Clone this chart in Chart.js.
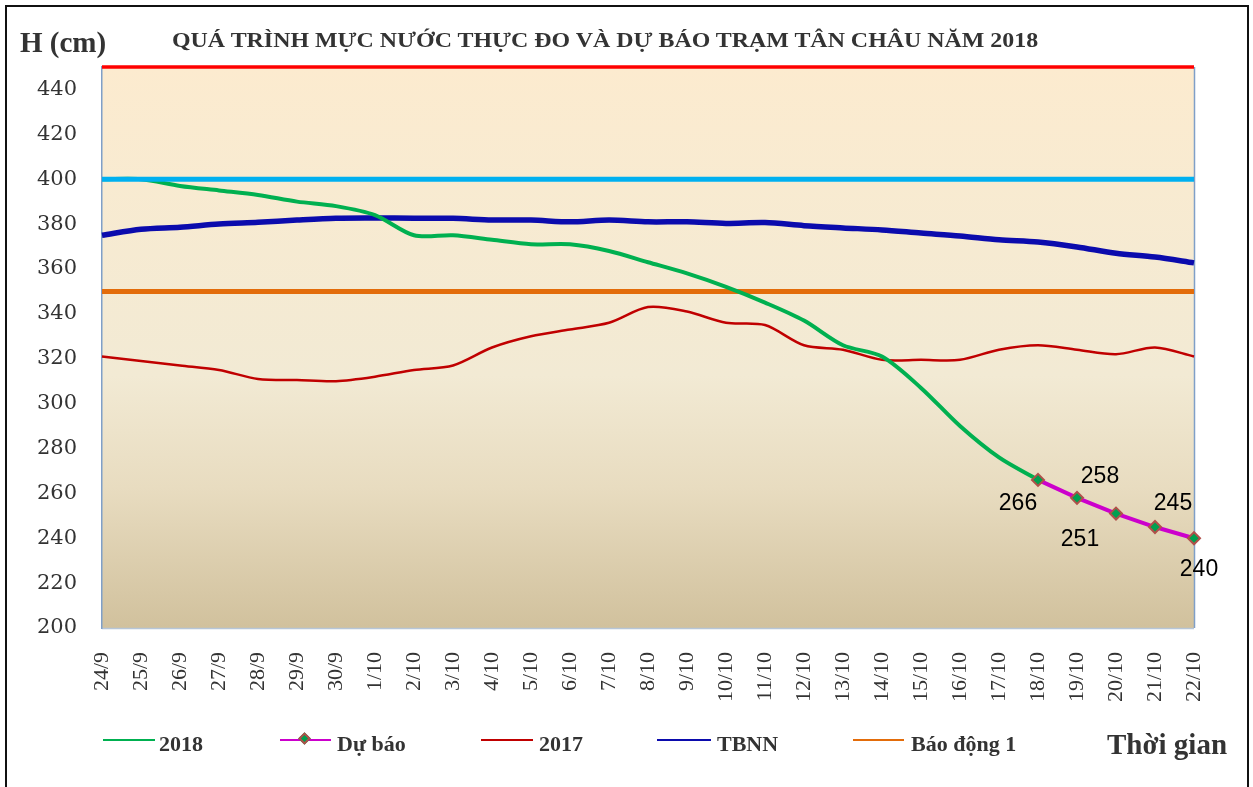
<!DOCTYPE html>
<html lang="vi">
<head>
  <meta charset="UTF-8" />
  <title>Tân Châu 2018</title>
  <script src="https://cdn.jsdelivr.net/npm/chart.js"></script>
  <style>
    * { margin: 0; padding: 0; box-sizing: border-box; }
    body { width: 1253px; height: 787px; background: #fff; overflow: hidden; position: relative;
           font-family: 'Liberation Serif', 'Times New Roman', serif; color: #333; }
    .frame { position: absolute; left: 5px; top: 5px; width: 1244px; height: 800px; border: 2px solid #111; }
    #chart { position: absolute; left: 0; top: 0; }
    .txt { position: absolute; font-weight: bold; white-space: nowrap; line-height: 1; }
    .title { left: 172px; top: 29px; font-size: 22px; transform-origin: left center; }
    .yname { left: 20px; top: 28px; font-size: 29px; }
    .xname { left: 1107px; top: 730px; font-size: 29px; }
    .leg-line { position: absolute; height: 2px; }
    .leg-text { position: absolute; top: 733px; font-size: 22px; font-weight: bold; line-height: 1; }
    .diamond { position: absolute; width: 9px; height: 9px; transform: rotate(45deg);
               background: #00a050; border: 2px solid #b0504a; }
  </style>
</head>
<body>
  <div class="frame"></div>
  <canvas id="chart" width="1253" height="787"></canvas>
  <div class="txt title" id="title">QUÁ TRÌNH MỰC NƯỚC THỰC ĐO VÀ DỰ BÁO TRẠM TÂN CHÂU NĂM 2018</div>
  <div class="txt yname">H (cm)</div>
  <div class="txt xname">Thời gian</div>
  <div id="legend"></div>

  <script>
    // dates on the x axis
    const days = ['24/9','25/9','26/9','27/9','28/9','29/9','30/9','1/10','2/10','3/10','4/10','5/10','6/10','7/10',
                  '8/10','9/10','10/10','11/10','12/10','13/10','14/10','15/10','16/10','17/10','18/10','19/10','20/10','21/10','22/10'];

    // water level (cm)
    const level2018 = [400,400,397,395,393,390,388,384,375,375,373,371,371,368,363,358,352,345,337,326,321,307,290,276,266,null,null,null,null];
    const forecast  = [null,null,null,null,null,null,null,null,null,null,null,null,null,null,null,null,null,null,null,null,null,null,null,null,266,258,251,245,240];
    const level2017 = [321,319,317,315,311,310.5,310,312,315,317,325,330,333,336,343,341,336,335,326,324,319.5,319.5,319.5,324,326,324,322,325,321];
    const tbnn      = [375,377.7,378.6,380,380.8,381.8,382.6,382.7,382.6,382.6,381.8,381.8,381,381.8,381,381,380.3,380.7,379.3,378.3,377.4,376,374.7,373,372,369.8,367,365.3,362.7];

    // alarm levels
    const alarm1 = 350, alarm2 = 400, alarm3 = 450;
    const yTicks = [200,220,240,260,280,300,320,340,360,380,400,420,440];

    // where each forecast number sits relative to its point
    const labelOffsets = [[-20,24],[23,-21],[-36,26],[18,-23],[5,31]];

    const flat = v => days.map(() => v);

    const bgPlugin = {
      id: 'plotBg',
      beforeDraw(chart) {
        const { ctx, chartArea: a } = chart;
        const g = ctx.createLinearGradient(0, a.top, 0, a.bottom);
        g.addColorStop(0, '#fcebcf');
        g.addColorStop(0.55, '#f2ead4');
        g.addColorStop(0.75, '#e8dcc0');
        g.addColorStop(1, '#d1c19d');
        ctx.save();
        ctx.fillStyle = g;
        ctx.fillRect(a.left, a.top, a.right - a.left, a.bottom - a.top);
        // right and bottom frame
        ctx.lineWidth = 1.5;
        ctx.strokeStyle = '#b7c6d8';
        ctx.beginPath();
        ctx.moveTo(a.left, a.bottom + 0.5);
        ctx.lineTo(a.right, a.bottom + 0.5);
        ctx.stroke();
        ctx.strokeStyle = '#7f9fc8';
        ctx.beginPath();
        ctx.moveTo(a.right + 0.5, a.top);
        ctx.lineTo(a.right + 0.5, a.bottom);
        ctx.stroke();
        ctx.restore();
      }
    };

    const numberPlugin = {
      id: 'forecastNumbers',
      afterDatasetsDraw(chart) {
        const idx = chart.data.datasets.findIndex(d => d.label === 'Dự báo');
        const meta = chart.getDatasetMeta(idx);
        const ctx = chart.ctx;
        ctx.save();
        ctx.font = '23px "Liberation Sans", Arial, sans-serif';
        ctx.fillStyle = '#000';
        ctx.textAlign = 'center';
        ctx.textBaseline = 'middle';
        let k = 0;
        forecast.forEach((v, i) => {
          if (v === null) return;
          const p = meta.data[i];
          const off = labelOffsets[k++];
          ctx.fillText(String(v), p.x + off[0], p.y + off[1]);
        });
        ctx.restore();
      }
    };

    const datasets = [
      { label: 'Dự báo', data: forecast, borderColor: '#cc00cc', borderWidth: 4, tension: 0,
        pointStyle: 'rectRot', pointRadius: 6, pointBackgroundColor: '#00a050', pointBorderColor: '#b0504a',
        pointBorderWidth: 2, order: 0, spanGaps: false },
      { label: 'Báo động 2', data: flat(alarm2), borderColor: '#00b0f0', borderWidth: 5, order: 1 },
      { label: '2018', data: level2018, borderColor: '#00b050', borderWidth: 4, tension: 0.3, order: 2 },
      { label: 'TBNN', data: tbnn, borderColor: '#0b0bad', borderWidth: 5.5, tension: 0.3, order: 3 },
      { label: '2017', data: level2017, borderColor: '#c00000', borderWidth: 2.5, tension: 0.3, order: 4 },
      { label: 'Báo động 1', data: flat(alarm1), borderColor: '#e36c0a', borderWidth: 5, order: 5 },
      { label: 'Báo động 3', data: flat(alarm3), borderColor: '#ff0000', borderWidth: 3.5, order: 6, clip: false }
    ];
    datasets.forEach(d => {
      d.fill = false;
      if (d.label !== 'Dự báo') d.pointRadius = 0;
    });

    new Chart(document.getElementById('chart'), {
      type: 'line',
      data: { labels: days, datasets: datasets },
      options: {
        responsive: false,
        animation: false,
        layout: { padding: { top: 67, right: 59, left: 0, bottom: 0 } },
        plugins: { legend: { display: false }, tooltip: { enabled: false } },
        scales: {
          x: {
            grid: { display: false, drawTicks: false },
            border: { display: false },
            ticks: { autoSkip: false, minRotation: 90, maxRotation: 90, padding: 24, color: '#333',
                     font: { family: '"Liberation Serif", serif', size: 22 } },
            afterFit(s) { s.height = 159; }
          },
          y: {
            min: 200, max: 450,
            grid: { display: false, drawTicks: false },
            border: { display: true, color: '#7f9fc8', width: 1.5 },
            afterBuildTicks(s) { s.ticks = yTicks.map(v => ({ value: v })); },
            ticks: { padding: 25, color: '#333', font: { family: '"DejaVu Serif", serif', size: 21 } },
            afterFit(s) { s.width = 102; }
          }
        }
      },
      plugins: [bgPlugin, numberPlugin]
    });

    // stretch the title to the width it has in the original
    const title = document.getElementById('title');
    title.style.transform = `scaleX(${866 / title.offsetWidth})`;

    // legend under the chart
    const legendItems = ['2018', 'Dự báo', '2017', 'TBNN', 'Báo động 1'];
    const legendX = [[103,155,159],[280,331,337],[481,533,539],[657,711,717],[853,904,911]];
    const leg = document.getElementById('legend');
    legendItems.forEach((name, i) => {
      const d = datasets.find(s => s.label === name);
      const [x0, x1, tx] = legendX[i];
      const line = document.createElement('div');
      line.className = 'leg-line';
      line.style.cssText = `left:${x0}px;top:739px;width:${x1 - x0}px;background:${d.borderColor}`;
      leg.appendChild(line);
      if (name === 'Dự báo') {
        const dm = document.createElement('div');
        dm.className = 'diamond';
        dm.style.left = ((x0 + x1) / 2 - 6) + 'px';
        dm.style.top = '734px';
        leg.appendChild(dm);
      }
      const t = document.createElement('div');
      t.className = 'leg-text';
      t.style.left = tx + 'px';
      t.textContent = name;
      leg.appendChild(t);
    });
  </script>
</body>
</html>
